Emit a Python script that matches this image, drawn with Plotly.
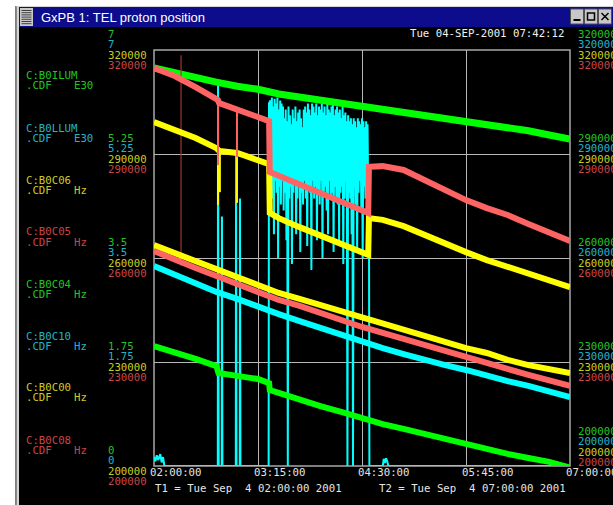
import datetime as dt
import plotly.graph_objects as go

W, H = 613, 505
DAY = "2001-09-04 "

# ---------------- text content ----------------
TITLE = "GxPB 1: TEL proton position"
DATE_STAMP = "Tue 04-SEP-2001 07:42:12"
T1_TEXT = "T1 = Tue Sep\u00a0\u00a04 02:00:00 2001"
T2_TEXT = "T2 = Tue Sep\u00a0\u00a04 07:00:00 2001"

CHANNEL_NAMES = ["C:B0ILUM", "C:B0LLUM", "C:B0C06", "C:B0C05",
                 "C:B0C04", "C:B0C10", "C:B0C00", "C:B0C08"]
CHANNEL_UNITS = ["E30", "E30", "Hz", "Hz", "Hz", "Hz", "Hz", "Hz"]
CHANNEL_COLORS = ["green", "cyan", "yellow", "red", "green", "cyan", "yellow", "red"]

LUM_TICK_VALUES = [7, 5.25, 3.5, 1.75, 0]
LUM_TICK_LABELS = ["7", "5.25", "3.5", "1.75", "0"]
HZ_TICK_VALUES = [320000, 290000, 260000, 230000, 200000]
HZ_TICK_LABELS = ["320000", "290000", "260000", "230000", "200000"]
X_TICK_TIMES = ["02:00:00", "03:15:00", "04:30:00", "05:45:00", "07:00:00"]
X_TICK_LABELS = ["02:00:00", "03:15:00", "04:30:00", "05:45:00", "07:00:00"]

# ---------------- data ----------------
T15 = ["02:00", "02:15", "02:30", "02:45", "03:00", "03:15", "03:30", "03:45",
       "04:00", "04:15", "04:30", "04:45", "05:00", "05:15", "05:30", "05:45",
       "06:00", "06:15", "06:30", "06:45", "07:00"]

# B0ILUM (E30, left 0-7 axis)
ILUM = [6.70, 6.61, 6.53, 6.46, 6.39, 6.34, 6.26, 6.21, 6.16, 6.11, 6.06,
        6.01, 5.96, 5.91, 5.86, 5.81, 5.76, 5.70, 5.64, 5.57, 5.50]

# B0C05 / B0C06 (Hz, left axis)
UP_T = ["02:00:00", "02:15:00", "02:30:00", "02:45:00", "02:46:00",
        "02:47:00", "03:00:00", "03:15:00",
        "03:23:00", "03:23:30", "03:30:00", "03:45:00", "04:00:00", "04:15:00",
        "04:30:00", "04:34:30", "04:35:00", "04:45:00", "05:00:00", "05:15:00",
        "05:30:00", "05:45:00", "06:00:00", "06:15:00", "06:30:00", "06:45:00",
        "07:00:00"]
C05 = [314800, 312500, 309300, 306200, 305600,
       304700, 302700, 300700,
       299500, 284800, 283700, 281300, 279000, 276400,
       273800, 273000, 286300, 286500, 285400, 282500,
       279600, 276700, 274400, 272400, 269800, 267500, 264900]
C06 = [299200, 296900, 294600, 291700, 291400,
       290900, 290300, 288300,
       287100, 273000, 271500, 268900, 266600, 264000,
       261700, 260900, 271500, 271000, 269200, 266600,
       264300, 261700, 259400, 257400, 255400, 253400, 251600]
# short glitches (time, from, to)
C05_SPIKES = [("02:46:10", 305500, 286800), ("02:59:50", 302700, 289100)]
C06_SPIKES = [("02:46:10", 291300, 275300), ("02:59:50", 290300, 275900),
              ("02:47:30", 290900, 279000)]
C08_SPIKES = [("02:19:30", 257800, 318500)]

# B0C04 (Hz, right axis)
C04_T = ["02:00:00", "02:15:00", "02:30:00", "02:45:00", "02:46:30", "03:00:00",
         "03:15:00", "03:23:00", "03:23:30", "03:30:00", "03:45:00", "04:00:00",
         "04:15:00", "04:30:00", "04:45:00", "05:00:00", "05:15:00", "05:30:00",
         "05:45:00", "06:00:00", "06:15:00", "06:30:00", "06:45:00", "07:00:00"]
C04 = [234600, 232900, 230900, 228800, 226800, 226000, 225100, 223900,
       221900, 221100, 219000, 217300, 215600, 213800, 212100, 210700,
       209200, 207800, 206300, 204900, 203500, 202300, 201200, 199500]

# B0C10, B0C00, B0C08 (Hz, right axis) on the 15-minute grid
C10 = [257700, 255100, 252500, 250200, 248200, 245900, 243800, 241800, 239800,
       237800, 235800, 234000, 232300, 230600, 229100, 227700, 226000, 224500,
       223100, 221300, 219900]
C00 = [263700, 261400, 258800, 256500, 254200, 251900, 249900, 248200, 246400,
       244400, 242700, 241000, 239200, 237500, 235800, 234000, 232600, 230600,
       229100, 228000, 226800]
C08 = [262000, 259400, 257100, 254800, 252500, 249900, 247900, 246200, 244100,
       242100, 240100, 238400, 236600, 234900, 233200, 231400, 229700, 228000,
       226300, 224500, 223100]

# B0LLUM (E30, left 0-7 axis): quiet parts + beam-loss bursts
LLUM_PRE_T = ["02:00:00", "02:01:00", "02:02:00", "02:03:00", "02:04:30", "02:05:30",
              "02:06:30", "02:07:30", "02:46:00", "02:46:10", "02:46:20", "02:46:40",
              "02:48:50", "02:49:00", "02:49:20", "02:59:00", "02:59:10", "02:59:30",
              "03:01:50", "03:02:00", "03:02:20", "03:22:40", "03:22:55"]
LLUM_PRE = [0.15, 0.08, 0.18, 0.10, 0.20, 0.06, 0.15, 0, 0, 6.5, 4.4, 0,
            0, 4.2, 0, 0, 5.3, 0, 0, 4.5, 0, 0, 6.1]
LLUM_BURST_START = "03:24:00"   # one high and one low reading per minute
LLUM_BURST_HI = [6.15, 6.2, 6.05, 6.18, 6.1, 6.2, 6.0, 6.15, 6.1, 6.05,
                 5.85, 6.0, 5.8, 6.05, 5.9, 5.75, 6.0, 5.85, 6.05, 5.8, 5.95, 6.0, 5.85, 5.7, 6.0,
                 6.05, 5.95, 6.1, 6.0, 5.9, 6.1, 6.05, 5.95, 6.1, 5.9, 6.05, 6.0, 6.1, 5.95, 6.05,
                 5.9, 6.1, 6.0, 5.95, 6.05, 6.1, 5.9, 6.0, 6.05,
                 5.95, 6.0, 5.85, 6.05, 5.9, 5.95, 5.8, 5.9,
                 5.8, 5.85, 5.75, 5.85, 5.8, 5.7, 5.85, 5.8, 5.75, 5.85, 5.8, 5.7, 5.8, 5.75]
LLUM_BURST_LO = [4.7, 4.5, 3.9, 4.8, 4.6, 3.5, 4.7, 4.4, 4.8, 4.3,
                 4.6, 3.8, 0, 4.5, 4.7, 3.4, 4.6, 4.8, 3.9, 4.5, 4.7, 3.6, 4.6, 4.4, 4.8,
                 4.5, 3.7, 4.7, 4.6, 3.3, 4.8, 4.5, 4.7, 3.8, 4.6, 4.4, 4.8, 3.5, 4.6, 4.7,
                 4.3, 3.9, 4.8, 4.5, 4.6, 3.6, 4.7, 4.5, 4.4,
                 3.8, 4.6, 4.7, 3.4, 4.5, 4.8, 0, 4.6,
                 4.5, 3.9, 0, 4.7, 4.4, 3.6, 4.6, 4.8, 4.3, 3.5, 4.7, 4.5, 4.6, 4.4]
LLUM_POST_T = ["04:35:00", "04:35:20", "04:45:00", "04:45:40", "04:46:30",
               "04:47:20", "04:48:10", "04:49:00", "07:00:00"]
LLUM_POST = [4.8, 0, 0, 0.12, 0.05, 0.13, 0.08, 0, 0]

# ---------------- styles ----------------
LINE = {"green": "#00ff00", "cyan": "#00ffff", "yellow": "#ffff00", "red": "#ff6464",
        "dimred": "#a03434"}
TXT = {"green": "#22c422", "cyan": "#22b4c8", "yellow": "#cccc22", "red": "#cc4444"}
MONO = "DejaVu Sans Mono"
FS = 10.7


def ts(t):
    if len(t) == 5:
        t = t + ":00"
    return DAY + t


def px(x):
    return x / W


def py(y):
    return 1 - y / H


# build LLUM time series
burst_t, burst_v = [], []
b0 = dt.datetime.strptime(DAY + LLUM_BURST_START, "%Y-%m-%d %H:%M:%S")
for m, (hi, lo) in enumerate(zip(LLUM_BURST_HI, LLUM_BURST_LO)):
    burst_t.append((b0 + dt.timedelta(minutes=m)).strftime("%Y-%m-%d %H:%M:%S"))
    burst_v.append(hi)
    burst_t.append((b0 + dt.timedelta(minutes=m, seconds=30)).strftime("%Y-%m-%d %H:%M:%S"))
    burst_v.append(lo)
llum_t = [ts(t) for t in LLUM_PRE_T] + burst_t + [ts(t) for t in LLUM_POST_T]
llum_v = LLUM_PRE + burst_v + LLUM_POST

fig = go.Figure()


def add(x, y, color, width, axis):
    fig.add_trace(go.Scatter(x=x, y=y, mode="lines", yaxis=axis,
                             line=dict(color=LINE[color], width=width),
                             hoverinfo="skip", showlegend=False, connectgaps=False))


def spikes(lst):
    xs, ys = [], []
    for t, a, b in lst:
        xs += [ts(t), ts(t), None]
        ys += [a, b, None]
    return xs, ys


sx, sy = spikes(C08_SPIKES)
add(sx, sy, "dimred", 1.2, "y2")
add(llum_t, llum_v, "cyan", 2, "y")
add([ts(t) for t in T15], ILUM, "green", 7, "y")
sx, sy = spikes(C06_SPIKES)
add(sx, sy, "yellow", 2, "y2")
add([ts(t) for t in UP_T], C06, "yellow", 6, "y2")
sx, sy = spikes(C05_SPIKES)
add(sx, sy, "red", 2, "y2")
add([ts(t) for t in UP_T], C05, "red", 6, "y2")
add([ts(t) for t in C04_T], C04, "green", 6, "y2")
add([ts(t) for t in T15], C10, "cyan", 6, "y2")
add([ts(t) for t in T15], C00, "yellow", 6, "y2")
add([ts(t) for t in T15], C08, "red", 6, "y2")

ann = []
shapes = []

# window chrome
shapes.append(dict(type="rect", xref="paper", yref="paper", x0=0, x1=px(15.5), y0=0, y1=1,
                   fillcolor="white", line=dict(width=0), layer="above"))
shapes.append(dict(type="rect", xref="paper", yref="paper", x0=0, x1=1, y0=py(6), y1=1,
                   fillcolor="white", line=dict(width=0), layer="above"))
shapes.append(dict(type="rect", xref="paper", yref="paper", x0=px(15.5), x1=px(16.5), y0=0, y1=py(6),
                   fillcolor="#808080", line=dict(width=0), layer="above"))
shapes.append(dict(type="rect", xref="paper", yref="paper", x0=px(16.5), x1=px(19), y0=0, y1=py(6),
                   fillcolor="#d4d4d4", line=dict(width=0), layer="above"))
shapes.append(dict(type="rect", xref="paper", yref="paper", x0=px(16.5), x1=1, y0=py(7), y1=py(6),
                   fillcolor="#d4d4d4", line=dict(width=0), layer="above"))
shapes.append(dict(type="rect", xref="paper", yref="paper", x0=px(19), x1=1, y0=py(27), y1=py(7),
                   fillcolor="#0c0c8c", line=dict(width=0), layer="above"))
# menu icon
shapes.append(dict(type="rect", xref="paper", yref="paper", x0=px(20), x1=px(33), y0=py(26), y1=py(8),
                   fillcolor="#c8c8c8", line=dict(width=0), layer="above"))
for k in range(7):
    yy = 10.5 + k * 2.2
    shapes.append(dict(type="line", xref="paper", yref="paper", x0=px(21.5), x1=px(31.5),
                       y0=py(yy), y1=py(yy), line=dict(color="#404040", width=1), layer="above"))
# buttons
for bx in (570.5, 584.5, 598.5):
    shapes.append(dict(type="rect", xref="paper", yref="paper", x0=px(bx), x1=px(bx + 13), y0=py(24), y1=py(9),
                       fillcolor="#c8c8c8", line=dict(color="#505050", width=1), layer="above"))
shapes.append(dict(type="line", xref="paper", yref="paper", x0=px(573.5), x1=px(580.5), y0=py(20), y1=py(20),
                   line=dict(color="black", width=2), layer="above"))
shapes.append(dict(type="rect", xref="paper", yref="paper", x0=px(587.5), x1=px(594.5), y0=py(20), y1=py(13),
                   line=dict(color="black", width=1.5), layer="above"))
shapes.append(dict(type="line", xref="paper", yref="paper", x0=px(601.5), x1=px(608.5), y0=py(20), y1=py(13),
                   line=dict(color="black", width=1.5), layer="above"))
shapes.append(dict(type="line", xref="paper", yref="paper", x0=px(601.5), x1=px(608.5), y0=py(13), y1=py(20),
                   line=dict(color="black", width=1.5), layer="above"))
# plot frame
shapes.append(dict(type="rect", xref="paper", yref="paper", x0=px(154), x1=px(570), y0=py(466), y1=py(50),
                   line=dict(color="#a8a8a8", width=1.5), layer="between"))

ann.append(dict(text=TITLE, xref="paper", yref="paper", x=px(39), y=py(17), xanchor="left",
                yanchor="middle", showarrow=False,
                font=dict(family="Liberation Sans", size=13, color="white")))
ann.append(dict(text=DATE_STAMP, xref="paper", yref="paper", x=px(408), y=py(33), xanchor="left",
                yanchor="middle", showarrow=False, font=dict(family=MONO, size=FS, color="#f0f0f0")))

# channel legend on the left
NAME_Y = [75, 128, 180, 232, 284, 336, 387, 440]
for name, unit, col, yy in zip(CHANNEL_NAMES, CHANNEL_UNITS, CHANNEL_COLORS, NAME_Y):
    ann.append(dict(text=name, xref="paper", yref="paper", x=px(24), y=py(yy), xanchor="left",
                    yanchor="middle", showarrow=False, font=dict(family=MONO, size=FS, color=TXT[col])))
    ann.append(dict(text=".CDF", xref="paper", yref="paper", x=px(24), y=py(yy + 10.5), xanchor="left",
                    yanchor="middle", showarrow=False, font=dict(family=MONO, size=FS, color=TXT[col])))
    ann.append(dict(text=unit, xref="paper", yref="paper", x=px(72), y=py(yy + 10.5), xanchor="left",
                    yanchor="middle", showarrow=False, font=dict(family=MONO, size=FS, color=TXT[col])))

# stacked axis labels
SHIFTS = [15.5, 5.2, -5.2, -15.5]
left_sets = [(LUM_TICK_LABELS, "green"), (LUM_TICK_LABELS, "cyan"),
             (HZ_TICK_LABELS, "yellow"), (HZ_TICK_LABELS, "red")]
for (labels, col), sh in zip(left_sets, SHIFTS):
    for v, lab in zip(LUM_TICK_VALUES, labels):
        ann.append(dict(text=lab, xref="paper", yref="y", x=px(106), y=v, yshift=sh,
                        xanchor="left", yanchor="middle", showarrow=False,
                        font=dict(family=MONO, size=FS, color=TXT[col])))
for col, sh in zip(["green", "cyan", "yellow", "red"], SHIFTS):
    for v, lab in zip(HZ_TICK_VALUES, HZ_TICK_LABELS):
        extra = 19 if v == HZ_TICK_VALUES[-1] else 0   # bottom group sits above the time labels
        ann.append(dict(text=lab, xref="paper", yref="y2", x=px(576), y=v, yshift=sh + extra,
                        xanchor="left", yanchor="middle", showarrow=False,
                        font=dict(family=MONO, size=FS, color=TXT[col])))

# time axis labels
for t, lab in zip(X_TICK_TIMES, X_TICK_LABELS):
    ann.append(dict(text=lab, xref="x", yref="paper", x=ts(t), xshift=-6, y=py(472),
                    xanchor="left", yanchor="middle", showarrow=False,
                    font=dict(family=MONO, size=FS, color="#e4e4e4")))
ann.append(dict(text=T1_TEXT, xref="paper", yref="paper", x=px(153), y=py(488), xanchor="left",
                yanchor="middle", showarrow=False, font=dict(family=MONO, size=FS, color="#e4e4e4")))
ann.append(dict(text=T2_TEXT, xref="paper", yref="paper", x=px(377), y=py(488), xanchor="left",
                yanchor="middle", showarrow=False, font=dict(family=MONO, size=FS, color="#e4e4e4")))

fig.update_layout(
    width=W, height=H, margin=dict(l=0, r=0, t=0, b=0),
    paper_bgcolor="black", plot_bgcolor="black", showlegend=False,
    xaxis=dict(domain=[px(154), px(570)], type="date",
               range=[ts("02:00:00"), ts("07:00:00")],
               tickvals=[ts(t) for t in X_TICK_TIMES], showticklabels=False, ticks="",
               showgrid=True, gridcolor="#b8b8b8", gridwidth=1, zeroline=False, showline=False),
    yaxis=dict(domain=[py(466), py(50)], range=[0, 7], tickvals=LUM_TICK_VALUES,
               showticklabels=False, ticks="", showgrid=True, gridcolor="#b8b8b8", gridwidth=1,
               zeroline=False, showline=False),
    yaxis2=dict(overlaying="y", anchor="x", range=[200000, 320000], showticklabels=False,
                ticks="", showgrid=False, zeroline=False, showline=False),
    shapes=shapes, annotations=ann,
)

fig.write_html("out.html", config={"displayModeBar": False},
               post_script="document.body.style.margin='0';document.body.style.overflow='hidden';")
